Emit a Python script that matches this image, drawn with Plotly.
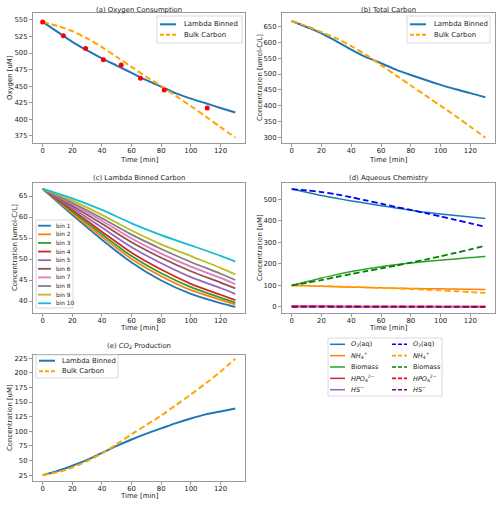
import plotly.graph_objects as go

# ---------------- data ----------------
time = [0, 10, 20, 30, 40, 50, 60, 70, 80, 90, 100, 110, 120, 130]
obs_time = [0, 14, 29, 41, 53, 66, 82, 111]
obs_o2 = [547, 526, 507, 490, 482, 462, 444, 417]

o2_lambda = [547, 532, 517, 504, 492, 481, 470, 459, 449, 439, 431, 424, 417, 410]
o2_bulk = [547, 541, 533, 522, 509, 494, 479, 464, 450, 435, 420, 404, 388, 372]

tc_lambda = [667, 648, 628, 603, 577, 553, 534, 514, 497, 481, 466, 452, 440, 427]
tc_bulk = [667, 651, 632, 612, 588, 560, 528, 496, 464, 432, 400, 368, 334, 300]

bin_time = [0, 20, 40, 60, 80, 100, 120, 130]
bin1 = [66.7, 60.5, 54.6, 49.2, 44.9, 41.7, 39.5, 38.6]
bin2 = [66.7, 60.9, 55.3, 50.0, 45.9, 42.6, 40.3, 39.2]
bin3 = [66.7, 61.3, 55.9, 50.7, 46.6, 43.3, 40.8, 39.6]
bin4 = [66.7, 61.7, 56.5, 51.5, 47.5, 44.1, 41.5, 40.2]
bin5 = [66.7, 62.2, 57.5, 52.8, 49.0, 45.7, 43.1, 41.7]
bin6 = [66.7, 62.7, 58.4, 54.0, 50.3, 47.1, 44.4, 43.0]
bin7 = [66.7, 63.1, 59.1, 54.9, 51.3, 48.2, 45.5, 44.0]
bin8 = [66.7, 63.4, 59.7, 55.8, 52.4, 49.3, 46.5, 45.0]
bin9 = [66.7, 63.9, 60.5, 56.8, 53.5, 50.7, 47.9, 46.35]
bin10 = [66.7, 64.45, 61.7, 58.5, 55.7, 53.25, 50.76, 49.4]
bin_labels = ["bin 1", "bin 2", "bin 3", "bin 4", "bin 5", "bin 6", "bin 7", "bin 8", "bin 9", "bin 10"]
bin_series = [bin1, bin2, bin3, bin4, bin5, bin6, bin7, bin8, bin9, bin10]

nh4_lambda = [100, 98, 96, 94, 92, 90, 89, 87, 86, 85, 84, 83, 82, 81]
nh4_bulk = [100, 99, 97, 95, 93, 91, 88, 86, 83, 80, 77, 73, 69, 65]
bio_lambda = [100, 117, 134, 150, 164, 176, 187, 196, 204, 211, 217, 223, 229, 234]
bio_bulk = [100, 112, 125, 139, 153, 166, 179, 192, 206, 220, 235, 251, 267, 284]
hpo4_lambda = [3.0, 2.9, 2.8, 2.7, 2.6, 2.5, 2.4, 2.4, 2.3, 2.2, 2.2, 2.1, 2.1, 2.0]
hpo4_bulk = [3.0, 2.9, 2.8, 2.7, 2.6, 2.5, 2.4, 2.3, 2.2, 2.1, 2.0, 1.9, 1.8, 1.7]
hs_lambda = [1.0, 1.0, 0.9, 0.9, 0.9, 0.8, 0.8, 0.8, 0.8, 0.7, 0.7, 0.7, 0.7, 0.7]
hs_bulk = [1.0, 1.0, 0.9, 0.9, 0.9, 0.8, 0.8, 0.8, 0.7, 0.7, 0.7, 0.6, 0.6, 0.6]

co2_lambda = [25, 32, 41, 51, 63, 75, 86, 96, 105, 114, 122, 129, 134, 139]
co2_bulk = [25, 30, 38, 49, 62, 78, 95, 111, 127, 145, 163, 182, 202, 224]

x_ticks = [0, 20, 40, 60, 80, 100, 120]

# ---------------- styling ----------------
W, H = 500, 505
FONT = "DejaVu Sans"
TXT = "#222222"
SPINE = "#999999"
BLUE = "#1f77b4"
ORANGE = "orange"
TAB = ["#1f77b4", "#ff7f0e", "#2ca02c", "#d62728", "#9467bd",
       "#8c564b", "#e377c2", "#7f7f7f", "#bcbd22", "#17becf"]
DASH = "6px,3px"


def px(x):
    return x / W


def py(y):
    return 1 - y / H


fig = go.Figure()


def line(x, y, color, dash="solid", width=2, ax=1, shape="spline"):
    fig.add_trace(go.Scatter(
        x=x, y=y, mode="lines", showlegend=False,
        line=dict(color=color, width=width, dash=dash, shape=shape, smoothing=0.8),
        xaxis="x" if ax == 1 else f"x{ax}", yaxis="y" if ax == 1 else f"y{ax}"))


# (a)
line(time, o2_lambda, BLUE, ax=1)
line(time, o2_bulk, ORANGE, DASH, ax=1)
fig.add_trace(go.Scatter(x=obs_time, y=obs_o2, mode="markers", showlegend=False,
                         marker=dict(color="red", size=5), xaxis="x", yaxis="y"))
# (b)
line(time, tc_lambda, BLUE, ax=2)
line(time, tc_bulk, ORANGE, DASH, ax=2)
# (c)
for vals, col in zip(bin_series, TAB):
    line(bin_time, vals, col, width=1.8, ax=3)
# (d)
solid_d = [(o2_lambda, BLUE), (nh4_lambda, "#ff7f0e"), (bio_lambda, "#2ca02c"),
           (hpo4_lambda, "#d62728"), (hs_lambda, "#9467bd")]
dash_d = [(o2_bulk, "blue"), (nh4_bulk, "orange"), (bio_bulk, "green"),
          (hpo4_bulk, "red"), (hs_bulk, "purple")]
for vals, col in solid_d:
    line(time, vals, col, width=1.5, ax=4)
for vals, col in dash_d:
    line(time, vals, col, DASH, width=1.8, ax=4)
# (e)
line(time, co2_lambda, BLUE, ax=5)
line(time, co2_bulk, ORANGE, DASH, ax=5)

# ---------------- axes ----------------
boxes = {
    1: (33, 245, 13, 143),
    2: (282, 495, 13, 143),
    3: (33, 245, 183, 313),
    4: (282, 495, 183, 313),
    5: (33, 245, 355, 481),
}
yranges = {1: [364, 560.5], 2: [283, 692], 3: [37.15, 68.1], 4: [-28, 575], 5: [15, 230.5]}
yticks = {
    1: [375, 400, 425, 450, 475, 500, 525, 550],
    2: [300, 350, 400, 450, 500, 550, 600, 650],
    3: [40, 45, 50, 55, 60, 65],
    4: [0, 100, 200, 300, 400, 500],
    5: [25, 50, 75, 100, 125, 150, 175, 200, 225],
}
common = dict(showline=True, mirror=True, linecolor=SPINE, linewidth=1,
              ticks="outside", ticklen=3, tickwidth=1, tickcolor=SPINE,
              tickfont=dict(family=FONT, size=6.9, color=TXT),
              showgrid=False, zeroline=False, fixedrange=True)
layout_axes = {}
for i, (x0, x1, y0, y1) in boxes.items():
    sx = "" if i == 1 else str(i)
    layout_axes[f"xaxis{sx}"] = dict(common, domain=[px(x0), px(x1)], range=[-6.5, 136.5],
                                     tickvals=x_ticks, anchor=f"y{sx}", ticklabelstandoff=-2)
    layout_axes[f"yaxis{sx}"] = dict(common, domain=[py(y1), py(y0)], range=yranges[i],
                                     tickvals=yticks[i], anchor=f"x{sx}")

annotations = []
shapes = []


def text(x, y, s, size=6.9, xanchor="center", angle=0):
    annotations.append(dict(x=px(x), y=py(y), xref="paper", yref="paper", text=s,
                            showarrow=False, xanchor=xanchor, yanchor="middle",
                            textangle=angle, font=dict(family=FONT, size=size, color=TXT)))


# titles
text(139, 10, "(a) Oxygen Consumption")
text(388.5, 10, "(b) Total Carbon")
text(139, 178, "(c) Lambda Binned Carbon")
text(388.5, 178, "(d) Aqueous Chemistry")
text(139, 346, "(e) <i>CO</i><sub>2</sub> Production")
# axis titles
for xc, yc in [(139, 159.5), (388.5, 159.5), (139, 327.5), (388.5, 327.5), (139, 495.5)]:
    text(xc, yc, "Time [min]")
text(10, 78, "Oxygen [uM]", angle=-90)
text(260, 78, "Concentration [umol-C/L]", angle=-90)
text(15, 248, "Concentration [umol-C/L]", angle=-90)
text(260, 248, "Concentration [uM]", angle=-90)
text(10, 418, "Concentration [uM]", angle=-90)


# legends (drawn manually to match matplotlib compact spacing)
def legend_box(x0, y0, x1, y1):
    shapes.append(dict(type="rect", xref="paper", yref="paper", layer="above",
                       x0=px(x0), x1=px(x1), y0=py(y1), y1=py(y0),
                       line=dict(color="#d9d9d9", width=1),
                       fillcolor="rgba(255,255,255,0.85)"))


def legend_item(lx0, lx1, tx, y, label, color, dash="solid", width=2, size=6.9):
    shapes.append(dict(type="line", xref="paper", yref="paper", layer="above",
                       x0=px(lx0), x1=px(lx1), y0=py(y), y1=py(y),
                       line=dict(color=color, width=width, dash=dash)))
    text(tx, y, label, size=size, xanchor="left")


legend_box(157, 16, 242, 43)
legend_item(160, 176, 182, 24.3, "Lambda Binned", BLUE)
legend_item(160, 176, 182, 34.7, "Bulk Carbon", ORANGE, "4px,2px")

legend_box(407, 16, 490, 43)
legend_item(410, 426, 432, 24.3, "Lambda Binned", BLUE)
legend_item(410, 426, 432, 34.7, "Bulk Carbon", ORANGE, "4px,2px")

legend_box(36, 220, 73, 308)
for k, (lab, col) in enumerate(zip(bin_labels, TAB)):
    legend_item(38, 51, 54, 225.7 + k * 8.62, lab, col, width=1.8, size=5.8)

legend_box(36, 355, 118, 378)
legend_item(39, 55, 60, 360.7, "Lambda Binned", BLUE)
legend_item(39, 55, 60, 371.3, "Bulk Carbon", ORANGE, "4px,2px")

d_labels = ["<i>O</i><sub>2</sub>(aq)", "<i>NH</i><sub>4</sub><sup>+</sup>", "Biomass",
            "<i>HPO</i><sub>4</sub><sup>2−</sup>", "<i>HS</i><sup>−</sup>"]
legend_box(328, 338, 442, 396)
for k, lab in enumerate(d_labels):
    yy = 344.3 + k * 11.35
    legend_item(330, 345, 349, yy, lab, solid_d[k][1], width=1.5, size=6.5)
    legend_item(392, 407, 411, yy, lab, dash_d[k][1], "4px,2px", width=1.6, size=6.5)

fig.update_layout(
    width=W, height=H, margin=dict(l=0, r=0, t=0, b=0),
    paper_bgcolor="white", plot_bgcolor="white", showlegend=False,
    font=dict(family=FONT, size=6.9, color=TXT),
    annotations=annotations, shapes=shapes, **layout_axes)

fig.write_html("out.html", config={"displayModeBar": False, "staticPlot": True},
               post_script="document.body.style.margin='0px';document.body.style.overflow='hidden';")
